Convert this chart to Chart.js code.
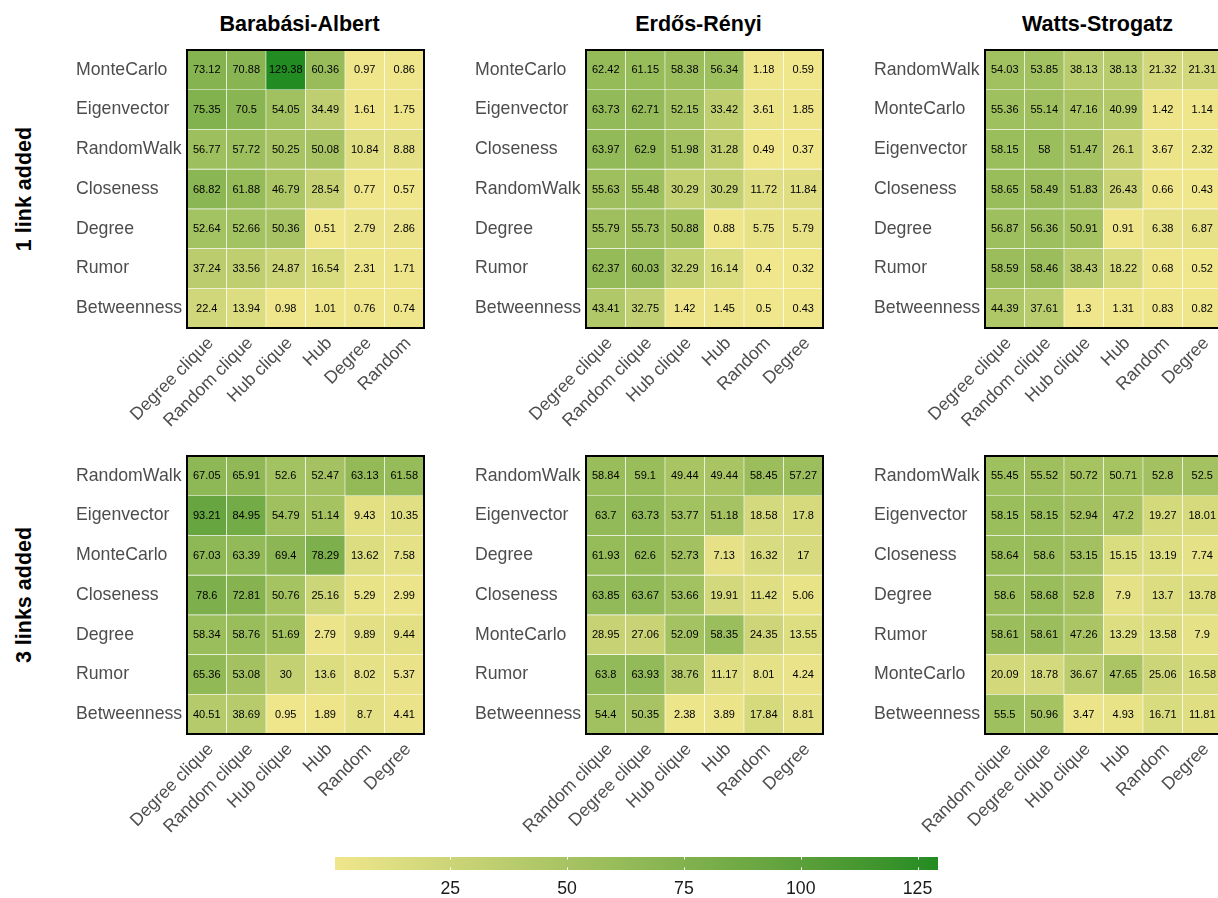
<!DOCTYPE html>
<html>
<head>
<meta charset="utf-8">
<script src="https://cdn.jsdelivr.net/npm/chart.js@4.4.0/dist/chart.umd.min.js"></script>
<style>
  body { margin: 0; background: #fff; width: 1218px; height: 898px; overflow: hidden; position: relative;
         font-family: "Liberation Sans", Arial, Helvetica, sans-serif; }
  .box { position: absolute; }
  .title { position: absolute; font-weight: bold; font-size: 21.5px; line-height: 1; color: #000; transform: translateX(-50%); white-space: nowrap; }
  .facet { position: absolute; font-weight: bold; font-size: 21.5px; line-height: 1; color: #000; transform: translate(-50%, -50%) rotate(-90deg); white-space: nowrap; }
</style>
</head>
<body>
<script>
// column orders differ between panels
const colsBA1 = ["Degree clique", "Random clique", "Hub clique", "Hub", "Degree", "Random"];
const colsMid = ["Degree clique", "Random clique", "Hub clique", "Hub", "Random", "Degree"];
const colsLow = ["Random clique", "Degree clique", "Hub clique", "Hub", "Random", "Degree"];

// --- 1 link added ---
const rowsBA1 = ["MonteCarlo", "Eigenvector", "RandomWalk", "Closeness", "Degree", "Rumor", "Betweenness"];
const valsBA1 = [
  [73.12, 70.88, 129.38, 60.36, 0.97, 0.86],
  [75.35, 70.5, 54.05, 34.49, 1.61, 1.75],
  [56.77, 57.72, 50.25, 50.08, 10.84, 8.88],
  [68.82, 61.88, 46.79, 28.54, 0.77, 0.57],
  [52.64, 52.66, 50.36, 0.51, 2.79, 2.86],
  [37.24, 33.56, 24.87, 16.54, 2.31, 1.71],
  [22.4, 13.94, 0.98, 1.01, 0.76, 0.74],
];
const rowsER1 = ["MonteCarlo", "Eigenvector", "Closeness", "RandomWalk", "Degree", "Rumor", "Betweenness"];
const valsER1 = [
  [62.42, 61.15, 58.38, 56.34, 1.18, 0.59],
  [63.73, 62.71, 52.15, 33.42, 3.61, 1.85],
  [63.97, 62.9, 51.98, 31.28, 0.49, 0.37],
  [55.63, 55.48, 30.29, 30.29, 11.72, 11.84],
  [55.79, 55.73, 50.88, 0.88, 5.75, 5.79],
  [62.37, 60.03, 32.29, 16.14, 0.4, 0.32],
  [43.41, 32.75, 1.42, 1.45, 0.5, 0.43],
];
const rowsWS1 = ["RandomWalk", "MonteCarlo", "Eigenvector", "Closeness", "Degree", "Rumor", "Betweenness"];
const valsWS1 = [
  [54.03, 53.85, 38.13, 38.13, 21.32, 21.31],
  [55.36, 55.14, 47.16, 40.99, 1.42, 1.14],
  [58.15, 58, 51.47, 26.1, 3.67, 2.32],
  [58.65, 58.49, 51.83, 26.43, 0.66, 0.43],
  [56.87, 56.36, 50.91, 0.91, 6.38, 6.87],
  [58.59, 58.46, 38.43, 18.22, 0.68, 0.52],
  [44.39, 37.61, 1.3, 1.31, 0.83, 0.82],
];

// --- 3 links added ---
const rowsBA3 = ["RandomWalk", "Eigenvector", "MonteCarlo", "Closeness", "Degree", "Rumor", "Betweenness"];
const valsBA3 = [
  [67.05, 65.91, 52.6, 52.47, 63.13, 61.58],
  [93.21, 84.95, 54.79, 51.14, 9.43, 10.35],
  [67.03, 63.39, 69.4, 78.29, 13.62, 7.58],
  [78.6, 72.81, 50.76, 25.16, 5.29, 2.99],
  [58.34, 58.76, 51.69, 2.79, 9.89, 9.44],
  [65.36, 53.08, 30, 13.6, 8.02, 5.37],
  [40.51, 38.69, 0.95, 1.89, 8.7, 4.41],
];
const rowsER3 = ["RandomWalk", "Eigenvector", "Degree", "Closeness", "MonteCarlo", "Rumor", "Betweenness"];
const valsER3 = [
  [58.84, 59.1, 49.44, 49.44, 58.45, 57.27],
  [63.7, 63.73, 53.77, 51.18, 18.58, 17.8],
  [61.93, 62.6, 52.73, 7.13, 16.32, 17],
  [63.85, 63.67, 53.66, 19.91, 11.42, 5.06],
  [28.95, 27.06, 52.09, 58.35, 24.35, 13.55],
  [63.8, 63.93, 38.76, 11.17, 8.01, 4.24],
  [54.4, 50.35, 2.38, 3.89, 17.84, 8.81],
];
const rowsWS3 = ["RandomWalk", "Eigenvector", "Closeness", "Degree", "Rumor", "MonteCarlo", "Betweenness"];
const valsWS3 = [
  [55.45, 55.52, 50.72, 50.71, 52.8, 52.5],
  [58.15, 58.15, 52.94, 47.2, 19.27, 18.01],
  [58.64, 58.6, 53.15, 15.15, 13.19, 7.74],
  [58.6, 58.68, 52.8, 7.9, 13.7, 13.78],
  [58.61, 58.61, 47.26, 13.29, 13.58, 7.9],
  [20.09, 18.78, 36.67, 47.65, 25.06, 16.58],
  [55.5, 50.96, 3.47, 4.93, 16.71, 11.81],
];

const networks = ["Barabási-Albert", "Erdős-Rényi", "Watts-Strogatz"];
const facets = ["1 link added", "3 links added"];
const colorbarTicks = [25, 50, 75, 100, 125];

const FONT = '"Liberation Sans", Arial, Helvetica, sans-serif';
Chart.defaults.font.family = FONT;
const AXIS_SIZE = 17.7;

// layout (px)
const PANEL_LEFT = [187, 586, 985];
const PANEL_TOP = [50, 456];
const AW = 237, AH = 278;      // heatmap area
const YW = 111, XH = 100, PT = 4, PR = 4;

// ---- khaki -> forestgreen, interpolated in Lab like ggplot ----
const LOW = "#F0E68C", HIGH = "#228B22";
function toLab(hex) {
  const lin = (c) => (c <= 0.04045 ? c / 12.92 : Math.pow((c + 0.055) / 1.055, 2.4));
  const r = lin(parseInt(hex.slice(1, 3), 16) / 255);
  const g = lin(parseInt(hex.slice(3, 5), 16) / 255);
  const b = lin(parseInt(hex.slice(5, 7), 16) / 255);
  const X = (0.4124564 * r + 0.3575761 * g + 0.1804375 * b) / 0.95047;
  const Y = 0.2126729 * r + 0.7151522 * g + 0.072175 * b;
  const Z = (0.0193339 * r + 0.119192 * g + 0.9503041 * b) / 1.08883;
  const f = (t) => (t > 216 / 24389 ? Math.cbrt(t) : ((24389 / 27) * t + 16) / 116);
  return [116 * f(Y) - 16, 500 * (f(X) - f(Y)), 200 * (f(Y) - f(Z))];
}
function fromLab([L, a, bb]) {
  const fy = (L + 16) / 116, fx = fy + a / 500, fz = fy - bb / 200;
  const inv = (t) => (t * t * t > 216 / 24389 ? t * t * t : (116 * t - 16) / (24389 / 27));
  const X = 0.95047 * inv(fx), Y = inv(fy), Z = 1.08883 * inv(fz);
  const rl = 3.2404542 * X - 1.5371385 * Y - 0.4985314 * Z;
  const gl = -0.969266 * X + 1.8760108 * Y + 0.041556 * Z;
  const bl = 0.0556434 * X - 0.2040259 * Y + 1.0572252 * Z;
  const gam = (c) => {
    const v = c <= 0.0031308 ? 12.92 * c : 1.055 * Math.pow(c, 1 / 2.4) - 0.055;
    return Math.round(Math.min(1, Math.max(0, v)) * 255);
  };
  return `rgb(${gam(rl)},${gam(gl)},${gam(bl)})`;
}
const labLow = toLab(LOW), labHigh = toLab(HIGH);
const mix = (t) => fromLab(labLow.map((v, i) => v + (labHigh[i] - v) * t));

const allVals = [valsBA1, valsER1, valsWS1, valsBA3, valsER3, valsWS3].flat(2);
const VMIN = Math.min(...allVals), VMAX = Math.max(...allVals);
const fillFor = (v) => mix((v - VMIN) / (VMAX - VMIN));

const panels = [
  { col: 0, row: 0, cols: colsBA1, rows: rowsBA1, vals: valsBA1 },
  { col: 1, row: 0, cols: colsMid, rows: rowsER1, vals: valsER1 },
  { col: 2, row: 0, cols: colsMid, rows: rowsWS1, vals: valsWS1 },
  { col: 0, row: 1, cols: colsMid, rows: rowsBA3, vals: valsBA3 },
  { col: 1, row: 1, cols: colsLow, rows: rowsER3, vals: valsER3 },
  { col: 2, row: 1, cols: colsLow, rows: rowsWS3, vals: valsWS3 },
];

const cellText = {
  id: "cellText",
  afterDatasetsDraw(chart) {
    const ctx = chart.ctx;
    ctx.save();
    ctx.font = `11px ${FONT}`;
    ctx.fillStyle = "#000";
    ctx.textAlign = "center";
    ctx.textBaseline = "middle";
    chart.data.datasets.forEach((ds, di) => {
      chart.getDatasetMeta(di).data.forEach((el, j) => {
        const c = el.getCenterPoint();
        ctx.fillText(String(ds.vals[j]), c.x, c.y + 0.5);
      });
    });
    ctx.restore();
  },
};

const frame = {
  id: "frame",
  afterDraw(chart) {
    const a = chart.chartArea, ctx = chart.ctx;
    ctx.save();
    ctx.strokeStyle = "#000";
    ctx.lineWidth = 2;
    ctx.strokeRect(a.left, a.top, a.right - a.left, a.bottom - a.top);
    ctx.restore();
  },
};

function addBox(left, top, w, h) {
  const wrap = document.createElement("div");
  wrap.className = "box";
  Object.assign(wrap.style, { left: left + "px", top: top + "px", width: w + "px", height: h + "px" });
  const cv = document.createElement("canvas");
  wrap.appendChild(cv);
  document.body.appendChild(wrap);
  return cv;
}

function noPad(s) {
  s.paddingTop = 0; s.paddingBottom = 0; s.paddingLeft = 0; s.paddingRight = 0;
}

function drawPanel(p) {
  const left = PANEL_LEFT[p.col], top = PANEL_TOP[p.row];
  const cv = addBox(left - YW, top - PT, YW + AW + PR, PT + AH + XH);
  const n = p.rows.length;
  const datasets = p.rows.map((r, i) => ({
    label: r,
    data: p.vals[i].map(() => [n - 1 - i, n - i]),
    vals: p.vals[i],
    backgroundColor: p.vals[i].map(fillFor),
    borderColor: "#ffffff",
    borderWidth: 0.6,
    borderSkipped: false,
    barPercentage: 1,
    categoryPercentage: 1,
    grouped: false,
  }));

  new Chart(cv, {
    type: "bar",
    data: { labels: p.cols, datasets },
    options: {
      responsive: true,
      maintainAspectRatio: false,
      animation: false,
      events: [],
      layout: { padding: { top: PT, right: PR, left: 0, bottom: 0 }, autoPadding: false },
      plugins: { legend: { display: false }, tooltip: { enabled: false } },
      scales: {
        x: {
          type: "category",
          offset: true,
          grid: { display: false, drawTicks: false },
          border: { display: false },
          ticks: {
            minRotation: 45, maxRotation: 45, autoSkip: false,
            padding: 5, labelOffset: 4,
            color: "#4d4d4d", font: { size: AXIS_SIZE },
          },
          afterFit: (s) => { s.height = XH; noPad(s); },
        },
        y: {
          type: "linear",
          min: 0, max: n,
          grid: { display: false, drawTicks: false },
          border: { display: false },
          afterBuildTicks: (s) => { s.ticks = p.rows.map((_, i) => ({ value: i + 0.5 })); },
          ticks: {
            crossAlign: "far",
            color: "#4d4d4d", font: { size: AXIS_SIZE },
            callback: (v) => p.rows[Math.round(n - 0.5 - v)],
          },
          afterFit: (s) => { s.width = YW; noPad(s); },
        },
      },
    },
    plugins: [cellText, frame],
  });
}

panels.forEach(drawPanel);

// titles and facet strips
networks.forEach((t, i) => {
  const d = document.createElement("div");
  d.className = "title";
  d.textContent = t;
  d.style.left = PANEL_LEFT[i] + AW / 2 - 6 + "px";
  d.style.top = "14px";
  document.body.appendChild(d);
});
facets.forEach((t, i) => {
  const d = document.createElement("div");
  d.className = "facet";
  d.textContent = t;
  d.style.left = "25px";
  d.style.top = PANEL_TOP[i] + AH / 2 + "px";
  document.body.appendChild(d);
});

// ---- colour bar ----
const CB_LEFT = 335, CB_TOP = 857, CB_W = 603, CB_H = 13, CB_PAD = 24;
const cbCanvas = addBox(CB_LEFT - CB_PAD, CB_TOP, CB_W + 2 * CB_PAD, CB_H + 41);
const cbTicks = {
  id: "cbTicks",
  afterDatasetsDraw(chart) {
    const x = chart.scales.x, a = chart.chartArea, ctx = chart.ctx;
    const len = (a.bottom - a.top) / 5;
    ctx.save();
    ctx.strokeStyle = "#fff";
    ctx.lineWidth = 1;
    colorbarTicks.forEach((v) => {
      const px = Math.round(x.getPixelForValue(v)) + 0.5;
      ctx.beginPath();
      ctx.moveTo(px, a.top); ctx.lineTo(px, a.top + len);
      ctx.moveTo(px, a.bottom - len); ctx.lineTo(px, a.bottom);
      ctx.stroke();
    });
    ctx.restore();
  },
};
new Chart(cbCanvas, {
  type: "bar",
  data: {
    labels: [""],
    datasets: [{
      data: [[VMIN, VMAX]],
      backgroundColor: (c) => {
        const a = c.chart.chartArea;
        if (!a) return LOW;
        const g = c.chart.ctx.createLinearGradient(a.left, 0, a.right, 0);
        for (let k = 0; k <= 24; k++) g.addColorStop(k / 24, mix(k / 24));
        return g;
      },
      borderWidth: 0,
      barPercentage: 1,
      categoryPercentage: 1,
    }],
  },
  options: {
    indexAxis: "y",
    responsive: true,
    maintainAspectRatio: false,
    animation: false,
    events: [],
    layout: { padding: { left: CB_PAD, right: CB_PAD, top: 0, bottom: 0 }, autoPadding: false },
    plugins: { legend: { display: false }, tooltip: { enabled: false } },
    scales: {
      y: { display: false },
      x: {
        type: "linear",
        min: VMIN, max: VMAX,
        grid: { display: false, drawTicks: false },
        border: { display: false },
        afterBuildTicks: (s) => { s.ticks = colorbarTicks.map((v) => ({ value: v })); },
        ticks: { padding: 8, color: "#1a1a1a", font: { size: AXIS_SIZE } },
        afterFit: (s) => { s.height = 41; noPad(s); },
      },
    },
  },
  plugins: [cbTicks],
});
</script>
</body>
</html>
